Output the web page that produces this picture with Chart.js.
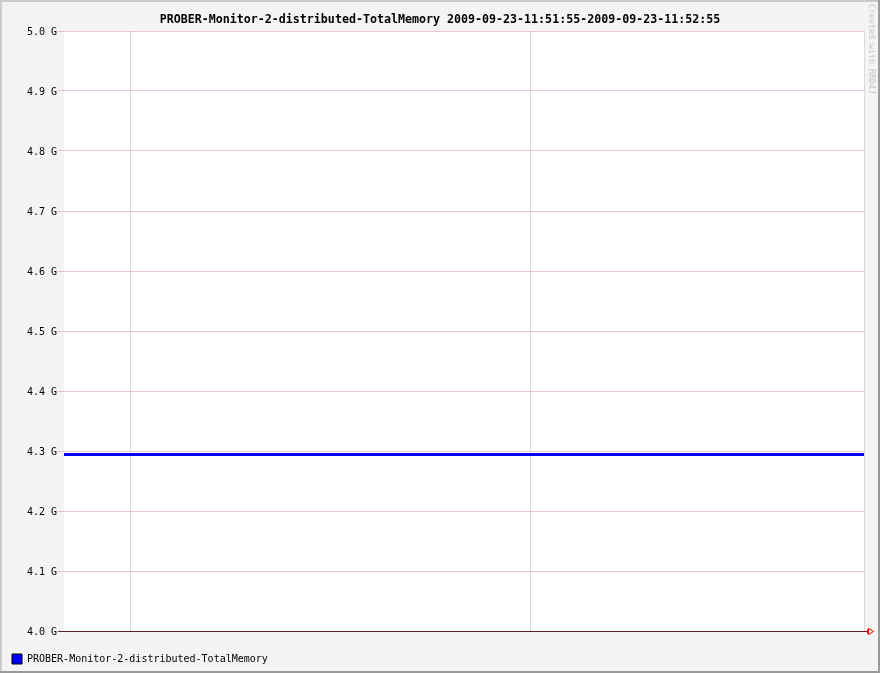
<!DOCTYPE html>
<html>
<head>
<meta charset="utf-8">
<script src="https://cdn.jsdelivr.net/npm/chart.js@4/dist/chart.umd.min.js"></script>
<style>
  html, body { margin: 0; padding: 0; background: #f4f4f4; }
  canvas { display: block; }
</style>
</head>
<body>
<canvas id="c" width="880" height="673"></canvas>
<script>
// ---- data ----
const seriesName = 'PROBER-Monitor-2-distributed-TotalMemory';
const rangeStart = '2009-09-23-11:51:55';
const rangeEnd = '2009-09-23-11:52:55';
const secondsFromStart = [0, 60];
const totalMemoryBytes = [4.294e9, 4.294e9];
const xGridSeconds = [5, 35, 60];
const yMin = 4.0e9;
const yMax = 5.0e9;
const yStep = 1.0e8;
const watermark = 'Created with RRD4J';

const MONO = '"DejaVu Sans Mono", "Liberation Mono", monospace';

const framePlugin = {
  id: 'frame',
  afterLayout(chart) {
    if (chart.legend) { chart.legend.top += 1; chart.legend.bottom += 1; }
  },
  beforeDraw(chart) {
    const ctx = chart.ctx, w = chart.width, h = chart.height, a = chart.chartArea;
    ctx.save();
    ctx.fillStyle = '#f4f4f4';
    ctx.fillRect(0, 0, w, h);
    ctx.fillStyle = '#ffffff';
    ctx.fillRect(a.left, a.top, a.right - a.left, a.bottom - a.top);
    ctx.fillStyle = '#cccccc';
    ctx.fillRect(0, 0, w, 2);
    ctx.fillRect(0, 0, 2, h);
    ctx.fillStyle = '#9a9a9a';
    ctx.fillRect(w - 2, 0, 2, h);
    ctx.fillRect(0, h - 2, w, 2);
    ctx.restore();
  },
  afterDraw(chart) {
    const ctx = chart.ctx, a = chart.chartArea;
    const y0 = Math.round(chart.scales.y.getPixelForValue(yMin)) + 0.5;
    ctx.save();
    ctx.strokeStyle = '#5c2020';
    ctx.lineWidth = 1;
    ctx.beginPath();
    ctx.moveTo(a.right, y0);
    ctx.lineTo(a.right + 3, y0);
    ctx.stroke();
    ctx.strokeStyle = '#ff0000';
    ctx.beginPath();
    ctx.moveTo(a.right + 3.5, y0 - 2);
    ctx.lineTo(a.right + 3.5, y0 + 2);
    ctx.moveTo(a.right + 4.5, y0 - 3);
    ctx.lineTo(a.right + 4.5, y0 + 3);
    ctx.lineTo(a.right + 9.5, y0);
    ctx.closePath();
    ctx.stroke();
    ctx.translate(868, 4);
    ctx.rotate(Math.PI / 2);
    ctx.fillStyle = '#c8c8c8';
    ctx.font = '8.3px ' + MONO;
    ctx.textBaseline = 'middle';
    ctx.textAlign = 'left';
    ctx.fillText(watermark, 0, -3.5);
    ctx.restore();
  }
};

new Chart(document.getElementById('c'), {
  type: 'line',
  data: {
    datasets: [{
      label: seriesName,
      data: secondsFromStart.map((t, i) => ({ x: t, y: totalMemoryBytes[i] })),
      borderColor: '#0000ff',
      backgroundColor: '#0000ff',
      borderWidth: 3,
      pointRadius: 0,
      tension: 0,
      fill: false
    }]
  },
  options: {
    responsive: false,
    animation: false,
    devicePixelRatio: 1,
    layout: { padding: { left: 0, right: 0, top: 0, bottom: 0 } },
    plugins: {
      tooltip: { enabled: false },
      title: {
        display: true,
        text: seriesName + ' ' + rangeStart + '-' + rangeEnd,
        color: '#000000',
        font: { family: MONO, size: 11.65, weight: 'bold', lineHeight: 1.2 },
        padding: { top: 13, bottom: 31 - 13 - 11.65 * 1.2 }
      },
      legend: {
        display: true,
        position: 'bottom',
        align: 'start',
        labels: {
          boxWidth: 10,
          boxHeight: 10,
          padding: 12,
          color: '#000000',
          font: { family: MONO, size: 10 },
          generateLabels(chart) {
            return chart.data.datasets.map((ds, i) => ({
              text: ds.label,
              fillStyle: ds.backgroundColor,
              strokeStyle: '#000000',
              lineWidth: 1,
              fontColor: '#000000',
              hidden: false,
              datasetIndex: i
            }));
          }
        }
      }
    },
    scales: {
      x: {
        type: 'linear',
        min: secondsFromStart[0],
        max: secondsFromStart[secondsFromStart.length - 1],
        afterBuildTicks(scale) { scale.ticks = xGridSeconds.map(v => ({ value: v })); },
        afterFit(scale) { scale.height = 10; },
        ticks: { display: false },
        border: { display: false },
        grid: { color: '#dadada', lineWidth: 1, drawTicks: false }
      },
      y: {
        min: yMin,
        max: yMax,
        afterBuildTicks(scale) {
          const t = [];
          for (let v = yMin; v <= yMax + 1; v += yStep) t.push({ value: v });
          scale.ticks = t;
        },
        afterFit(scale) { scale.width = 64; },
        ticks: {
          color: '#000000',
          font: { family: MONO, size: 10 },
          padding: 1,
          labelOffset: 1,
          callback: v => (v / 1e9).toFixed(1) + ' G'
        },
        border: { display: false },
        grid: {
          tickLength: 6,
          lineWidth: 1,
          color: ctx => (ctx.tick && Math.abs(ctx.tick.value - yMin) < 1) ? '#5c2020' : 'rgba(220,120,120,0.42)'
        }
      },
      yRight: {
        position: 'right',
        display: true,
        min: yMin,
        max: yMax,
        afterFit(scale) { scale.width = 16; },
        ticks: { display: false },
        border: { display: false },
        grid: { display: false, drawTicks: false }
      }
    }
  },
  plugins: [framePlugin]
});
</script>
</body>
</html>
